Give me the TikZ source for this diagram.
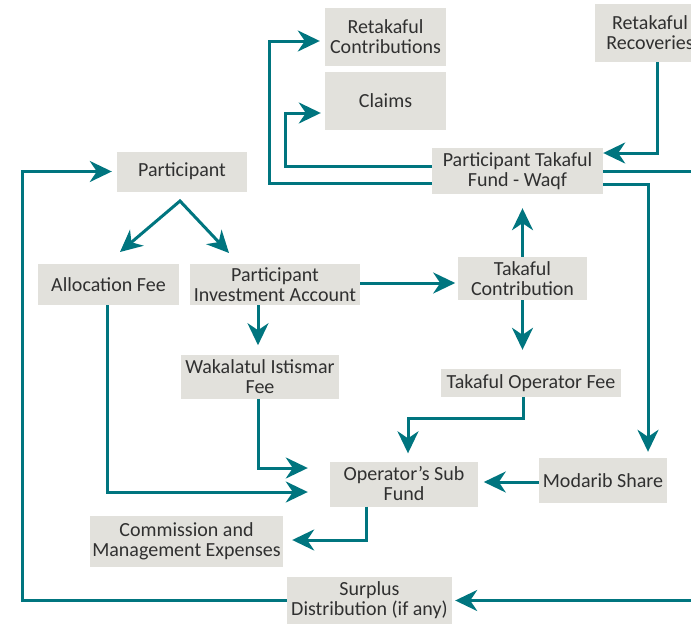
\documentclass[tikz,border=0pt]{standalone}
\usepackage{fontspec}
\setmainfont{Carlito}
\usepackage{xcolor}
\usetikzlibrary{arrows.meta, calc}
\definecolor{flowteal}{HTML}{00757F}
\definecolor{boxgrey}{HTML}{E2E1DC}
\definecolor{textgrey}{HTML}{303030}

\begin{document}
\begin{tikzpicture}[x=1pt, y=-1pt,
    >={Stealth[length=22pt, width=21pt, inset=7pt]},
    box/.style={fill=boxgrey, text=textgrey, inner sep=0pt, align=center,
        font=\fontsize{20}{20}\selectfont},
    flow/.style={draw=flowteal, line width=3pt, ->}]
                        \useasboundingbox (0,0) rectangle (691,624);
                        \clip (0,0) rectangle (691,624);

                        \node[box, minimum width=121pt, minimum height=58pt] (rc) at (385.5, 37) {Retakaful\\Contributions};
                        \node[box, minimum width=121pt, minimum height=58pt] (cl) at (385.5, 101) {Claims};
                        \node[box, minimum width=110pt, minimum height=58pt] (rr) at (650, 33) {Retakaful\\Recoveries};
                        \node[box, minimum width=171pt, minimum height=46pt] (ptf) at (517.5, 171) {Participant Takaful\\Fund - Waqf};
                        \node[box, minimum width=130pt, minimum height=40pt] (p) at (182, 171.5) {Participant};
                        \node[box, minimum width=141pt, minimum height=41pt] (af) at (108.5, 284.5) {Allocation Fee};
                        \node[box, minimum width=170pt, minimum height=41pt] (pia) at (275, 284.5) {Participant\\Investment Account};
                        \node[box, minimum width=129pt, minimum height=43pt] (tc) at (522.5, 278.5) {Takaful\\Contribution};
                        \node[box, minimum width=158pt, minimum height=44pt] (wf) at (260, 377) {Wakalatul Istismar\\Fee};
                        \node[box, minimum width=180pt, minimum height=28pt] (tof) at (531, 383) {Takaful Operator Fee};
                        \node[box, minimum width=148pt, minimum height=45pt] (osf) at (404, 484) {Operator’s Sub\\Fund};
                        \node[box, minimum width=128pt, minimum height=45pt] (ms) at (603, 480.5) {Modarib Share};
                        \node[box, minimum width=193pt, minimum height=51pt] (cme) at (186.5, 541.5) {Commission and\\Management Expenses};
                        \node[box, minimum width=165pt, minimum height=47pt] (sd) at (369.5, 600.5) {Surplus\\Distribution (if any)};

                        \coordinate (fork) at (180, 201);
                        \coordinate (forkl) at (120, 252);
                        \coordinate (forkr) at (229, 253);
                        \coordinate (offl) at (22, 0);
                        \coordinate (offr) at (720, 0);

                        \draw[flow, <->] (forkl) -- (fork) -- (forkr);
                        \draw[flow, shorten >=5pt] ([yshift=-12pt]ptf.west) -- ++(-162, 0) |- ([yshift=-4pt]rc.west);
                        \draw[flow, shorten >=4pt] ([yshift=5pt]ptf.west) -- ++(-146, 0) |- ([yshift=-12pt]cl.west);
                        \draw[flow] ([xshift=7pt]rr.south) |- ([yshift=18pt]ptf.east);
                        \draw[flow, shorten >=3pt] (ptf.east) -- (ptf.east -| offr) |- (sd.east);
                        \draw[flow, shorten >=6pt] ([yshift=-13pt]ptf.east) -| ([xshift=45pt]ms.north);
                        \draw[flow, shorten >=14pt] (tc.north) -- (tc.north |- ptf.south);
                        \draw[flow, shorten >=19pt] (tc.south) -- (tc.south |- tof.north);
                        \draw[flow, shorten >=8pt] ([xshift=-8pt]tof.south) -- ++(0, 21) -| ([xshift=4pt]osf.north);
                        \draw[flow] ([yshift=-1.5pt]ms.west) -- ++(-55, 0);
                        \draw[flow, shorten >=9pt] ([xshift=-38pt]osf.south) |- ([yshift=1.5pt]cme.east);
                        \draw[flow, shorten >=22pt] ([xshift=-1.5pt]af.south) |- ([yshift=-8pt]osf.west);
                        \draw[flow, shorten >=22pt] ([xshift=-2pt]wf.south) |- ([yshift=16pt]osf.west);
                        \draw[flow] ([xshift=-17pt]pia.south) -- ++(0, 40);
                        \draw[flow] ([yshift=1.5pt]pia.east) -- ++(95, 0);
                        \draw[flow, shorten >=5pt] (sd.west) -- (sd.west -| offl) |- (p.west);
                    \end{tikzpicture}
\end{document}
